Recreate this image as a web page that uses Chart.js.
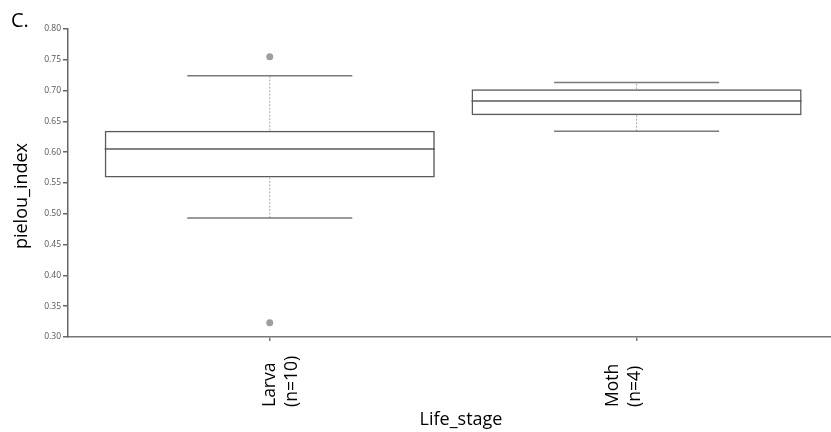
<!DOCTYPE html>
<html>
<head>
<meta charset="utf-8">
<title>pielou_index by Life_stage</title>
<script src="https://cdn.jsdelivr.net/npm/chart.js@4.4.1/dist/chart.umd.min.js"></script>
<style>
  html, body { margin: 0; padding: 0; background: #ffffff; }
  #wrap { width: 831px; height: 432px; }
</style>
</head>
<body>
<div id="wrap"><canvas id="chart" width="831" height="432"></canvas></div>
<script>
// Pielou evenness per life stage: box summaries and outliers
const lifeStages   = ['Larva', 'Moth'];
const sampleSizes  = [10, 4];
const whiskerLow   = [0.493, 0.634];
const quartile1    = [0.559, 0.660];
const medians      = [0.605, 0.683];
const quartile3    = [0.635, 0.702];
const whiskerHigh  = [0.724, 0.713];
const outliers     = [[0.755, 0.323], []];

const yAxisTitle = 'pielou_index';
const xAxisTitle = 'Life_stage';
const panelTag   = 'C.';

const FONT = '"Open Sans", "DejaVu Sans", sans-serif';

// Box bodies as floating bars spanning Q1..Q3
const boxData = lifeStages.map((_, i) => ({ x: i, y: [quartile1[i], quartile3[i]] }));
// Outlier points
const outlierData = [];
outliers.forEach((vals, i) => vals.forEach(v => outlierData.push({ x: i, y: v })));

// Medians, whiskers and caps, drawn from the scales and the box elements
const boxExtras = {
  id: 'boxExtras',
  afterDatasetsDraw(chart) {
    const ctx = chart.ctx;
    const y = chart.scales.y;
    const meta = chart.getDatasetMeta(0);
    meta.data.forEach((bar, i) => {
      const cx = bar.x;
      const half = bar.width / 2;
      ctx.save();
      // dotted whisker stems
      ctx.strokeStyle = '#a8a8a8';
      ctx.lineWidth = 1;
      ctx.setLineDash([2, 1.5]);
      ctx.beginPath();
      ctx.moveTo(cx, y.getPixelForValue(quartile3[i]));
      ctx.lineTo(cx, y.getPixelForValue(whiskerHigh[i]));
      ctx.moveTo(cx, y.getPixelForValue(quartile1[i]));
      ctx.lineTo(cx, y.getPixelForValue(whiskerLow[i]));
      ctx.stroke();
      ctx.setLineDash([]);
      // whisker caps
      ctx.strokeStyle = '#7a7a7a';
      ctx.lineWidth = 1.5;
      ctx.beginPath();
      [whiskerHigh[i], whiskerLow[i]].forEach(v => {
        const py = y.getPixelForValue(v);
        ctx.moveTo(cx - half / 2, py);
        ctx.lineTo(cx + half / 2, py);
      });
      ctx.stroke();
      // median
      ctx.strokeStyle = '#5a5a5a';
      ctx.lineWidth = 1.5;
      ctx.beginPath();
      const my = y.getPixelForValue(medians[i]);
      ctx.moveTo(cx - half, my);
      ctx.lineTo(cx + half, my);
      ctx.stroke();
      ctx.restore();
    });
  }
};

// Titles, panel tag and the two-line category labels
const labelNudge = [5, -19];
const textLayer = {
  id: 'textLayer',
  beforeDraw(chart) {
    const ctx = chart.ctx;
    ctx.save();
    ctx.fillStyle = '#ffffff';
    ctx.fillRect(0, 0, chart.width, chart.height);
    ctx.restore();
  },
  afterDraw(chart) {
    const ctx = chart.ctx;
    const x = chart.scales.x;
    ctx.save();
    ctx.fillStyle = '#000000';
    ctx.textBaseline = 'alphabetic';

    ctx.font = '20px ' + FONT;
    ctx.textAlign = 'left';
    ctx.fillText(panelTag, 11, 27);

    ctx.font = '18px ' + FONT;
    ctx.textAlign = 'center';
    ctx.fillText(xAxisTitle, 461, 425);

    ctx.save();
    ctx.translate(27, 196);
    ctx.rotate(-Math.PI / 2);
    ctx.fillText(yAxisTitle, 0, 0);
    ctx.restore();

    ctx.font = '17.5px ' + FONT;
    ctx.textAlign = 'left';
    lifeStages.forEach((name, i) => {
      const px = x.getPixelForValue(i) + labelNudge[i];
      const lines = [name, '(n=' + sampleSizes[i] + ')'];
      lines.forEach((line, k) => {
        ctx.save();
        ctx.translate(px + k * 22, 407);
        ctx.rotate(-Math.PI / 2);
        ctx.fillText(line, 0, 0);
        ctx.restore();
      });
    });
    ctx.restore();
  }
};

new Chart(document.getElementById('chart'), {
  type: 'bar',
  data: {
    datasets: [
      {
        type: 'bar',
        data: boxData,
        backgroundColor: 'rgba(255,255,255,0)',
        borderColor: '#5a5a5a',
        borderWidth: 1.5,
        borderSkipped: false,
        barPercentage: 0.9,
        categoryPercentage: 1.0
      },
      {
        type: 'scatter',
        data: outlierData,
        pointRadius: 3.5,
        pointBackgroundColor: '#9e9e9e',
        pointBorderWidth: 0
      }
    ]
  },
  options: {
    responsive: false,
    animation: false,
    events: [],
    layout: { autoPadding: false, padding: { top: 29, left: 0, right: 0, bottom: 0 } },
    plugins: { legend: { display: false }, tooltip: { enabled: false } },
    scales: {
      x: {
        type: 'linear',
        offset: false,
        min: -0.55,
        max: 1.53,
        afterBuildTicks(scale) { scale.ticks = lifeStages.map((_, i) => ({ value: i })); },
        afterFit(scale) { scale.height = 95; scale.paddingLeft = 0; scale.paddingRight = 0; },
        ticks: { display: false },
        grid: { offset: false, drawOnChartArea: false, tickLength: 4, color: '#777777', lineWidth: 1.5 },
        border: { color: '#777777', width: 1.5 }
      },
      y: {
        type: 'linear',
        min: 0.30,
        max: 0.80,
        afterFit(scale) { scale.width = 68; },
        ticks: {
          stepSize: 0.05,
          padding: 2,
          color: '#555555',
          font: { family: FONT, size: 8.5 },
          callback: v => v.toFixed(2)
        },
        grid: { drawOnChartArea: false, tickLength: 5, color: '#666666', lineWidth: 1.5 },
        border: { color: '#666666', width: 1.5 }
      }
    }
  },
  plugins: [boxExtras, textLayer]
});
</script>
</body>
</html>
